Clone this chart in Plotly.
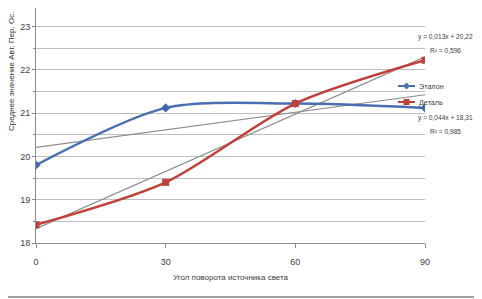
import numpy as np
import plotly.graph_objects as go

angles = [0, 30, 60, 90]
etalon = [19.80, 21.12, 21.22, 21.12]
detal = [18.42, 19.40, 21.22, 22.22]
x_ticks = [0, 30, 60, 90]
y_ticks = [18, 19, 20, 21, 22, 23]

FONT = "Liberation Sans Narrow, Arial Narrow, Liberation Sans, sans-serif"
TXT = "#404040"
BLUE = "#4a6fb0"
RED = "#c0403a"

# page offset of the figure (html body margin)
OFF = 8
PL, PR, PT, PB = 36, 425, 8, 243  # plot area on the page


def px(x):
    return (x - PL) / (PR - PL)


def py(y):
    return (PB - y) / (PB - PT)


fig = go.Figure()

# linear trendlines computed from the data
for ys in (etalon, detal):
    k, b = np.polyfit(angles, ys, 1)
    xs = np.array([angles[0], angles[-1]])
    fig.add_trace(go.Scatter(x=xs, y=k * xs + b, mode="lines",
                             line=dict(color="#8c8c8c", width=1.2),
                             showlegend=False, hoverinfo="skip"))

fig.add_trace(go.Scatter(x=angles, y=etalon, name="Эталон", mode="lines+markers",
                         line=dict(color=BLUE, width=2.5, shape="spline", smoothing=0.8),
                         marker=dict(symbol="diamond", size=7, color="#3f68b0"),
                         showlegend=False))
fig.add_trace(go.Scatter(x=angles, y=detal, name="Деталь", mode="lines+markers",
                         line=dict(color=RED, width=2.5, shape="spline", smoothing=0.8),
                         marker=dict(symbol="square", size=7, color=RED),
                         showlegend=False))

W, H = 482 - OFF, 299 - OFF
y_top = 18 + (PB - PT) / 43.3
fig.update_layout(
    width=W, height=H,
    margin=dict(l=PL - OFF, r=W - (PR - OFF), t=PT - OFF, b=H - (PB - OFF)),
    paper_bgcolor="white", plot_bgcolor="white",
    font=dict(family=FONT, size=9, color=TXT),
    showlegend=False,
    xaxis=dict(range=[0, 90], tickvals=x_ticks, ticktext=[str(v) for v in x_ticks],
               automargin=False,
               showgrid=False, zeroline=False, showline=True, linecolor="#8c8c8c",
               ticks="outside", ticklen=4, tickcolor="#8c8c8c", ticklabelstandoff=6,
               title=dict(text="Угол поворота источника света", font=dict(size=8, color=TXT),
                          standoff=8)),
    yaxis=dict(range=[18, y_top], tickvals=y_ticks, showgrid=True, gridcolor="#bdbdbd",
               automargin=False,
               gridwidth=1, zeroline=False, showline=True, linecolor="#8c8c8c",
               ticks="outside", ticklen=3, tickcolor="#8c8c8c",
               minor=dict(dtick=0.5, tick0=18, showgrid=True, gridcolor="#bdbdbd",
                          ticks="outside", ticklen=2, tickcolor="#8c8c8c")),
)

fig.add_annotation(text="Среднее значение Авт. Пер. Ос.", textangle=-90,
                   xref="paper", yref="paper", x=px(12), y=py(72), showarrow=False,
                   xanchor="center", yanchor="middle",
                   font=dict(size=8, color="#303030"))

ann = [("y = 0,013x + 20,22", 37), ("R² = 0,596", 50),
       ("y = 0,044x + 18,31", 118), ("R² = 0,985", 131)]
for t, yy in ann:
    fig.add_annotation(text=t, xref="paper", yref="paper",
                       x=px(445), y=py(yy), xanchor="center", yanchor="middle",
                       showarrow=False, font=dict(size=6.6, color=TXT))

# manual legend
leg = [("Эталон", 86, BLUE, "diamond"), ("Деталь", 102, RED, "square")]
for name, yy, col, sym in leg:
    fig.add_shape(type="line", xref="paper", yref="paper",
                  x0=px(398), x1=px(415), y0=py(yy), y1=py(yy),
                  line=dict(color=col, width=2))
    cx, cy = 406.5, yy
    if sym == "square":
        fig.add_shape(type="rect", xref="paper", yref="paper",
                      x0=px(cx - 3), x1=px(cx + 3), y0=py(cy + 3), y1=py(cy - 3),
                      fillcolor=col, line=dict(width=0))
    else:
        path = "M {} {} L {} {} L {} {} L {} {} Z".format(
            px(cx), py(cy - 3.5), px(cx + 3.5), py(cy), px(cx), py(cy + 3.5),
            px(cx - 3.5), py(cy))
        fig.add_shape(type="path", xref="paper", yref="paper", path=path,
                      fillcolor=col, line=dict(width=0))
    fig.add_annotation(text=name, xref="paper", yref="paper", x=px(417), y=py(yy),
                       xanchor="left", yanchor="middle", showarrow=False,
                       font=dict(size=7.2, color=TXT))

# frame bottom edge
fig.add_shape(type="line", xref="paper", yref="paper",
              x0=px(OFF), x1=px(482), y0=py(297), y1=py(297),
              line=dict(color="#a0a0a0", width=2))

fig.write_html("out.html")
